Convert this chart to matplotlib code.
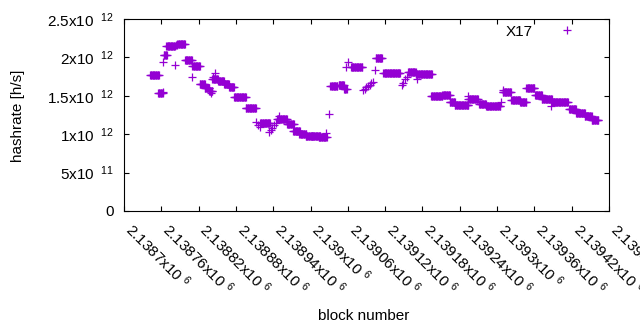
import numpy as np
import matplotlib
matplotlib.use('Agg')
import matplotlib.pyplot as plt
from matplotlib.ticker import MultipleLocator, FuncFormatter

plt.rcParams['font.family'] = ['Liberation Sans', 'DejaVu Sans']
plt.rcParams['mathtext.fontset'] = 'custom'
plt.rcParams['mathtext.rm'] = 'Liberation Sans'
plt.rcParams['mathtext.it'] = 'Liberation Sans'
plt.rcParams['mathtext.default'] = 'regular'

# --- data ---
# runs of consecutive blocks that share one hashrate estimate
# (first block, last block, hashrate in 10^12 h/s); single points have first == last
run_first = [2138742, 2138755, 2138763, 2138763, 2138764, 2138768, 2138782, 2138784,
             2138786, 2138798, 2138810, 2138810, 2138822, 2138830, 2138837, 2138840,
             2138843, 2138847, 2138842, 2138851, 2138861, 2138869, 2138877, 2138896,
             2138912, 2138916, 2138918, 2138919, 2138933, 2138936, 2138938, 2138941,
             2138944, 2138946, 2138950, 2138962, 2138972, 2138982, 2138992, 2139003,
             2139013, 2139025, 2139030, 2139032, 2139045, 2139054, 2139057, 2139061,
             2139065, 2139084, 2139087, 2139090, 2139093, 2139096, 2139098, 2139101,
             2139104, 2139105, 2139117, 2139147, 2139149, 2139152, 2139155, 2139157,
             2139169, 2139172, 2139194, 2139212, 2139224, 2139232, 2139253, 2139254,
             2139271, 2139282, 2139306, 2139309, 2139309, 2139323, 2139337, 2139347,
             2139361, 2139372, 2139387, 2139388, 2139416, 2139427, 2139441, 2139452]
run_last = [2138756, 2138762, 2138763, 2138763, 2138769, 2138782, 2138782, 2138785,
            2138798, 2138809, 2138822, 2138810, 2138830, 2138837, 2138842, 2138840,
            2138843, 2138847, 2138851, 2138861, 2138869, 2138877, 2138896, 2138912,
            2138912, 2138916, 2138918, 2138935, 2138933, 2138936, 2138938, 2138941,
            2138944, 2138962, 2138950, 2138973, 2138983, 2138993, 2139004, 2139016,
            2139026, 2139025, 2139030, 2139043, 2139054, 2139058, 2139057, 2139061,
            2139083, 2139084, 2139087, 2139090, 2139093, 2139096, 2139098, 2139101,
            2139104, 2139115, 2139144, 2139147, 2139149, 2139152, 2139155, 2139169,
            2139195, 2139172, 2139212, 2139224, 2139232, 2139254, 2139253, 2139269,
            2139282, 2139305, 2139306, 2139322, 2139309, 2139337, 2139347, 2139360,
            2139372, 2139388, 2139387, 2139414, 2139427, 2139441, 2139452, 2139463]
run_hashrate = [1.765, 1.532, 1.553, 1.936, 2.03, 2.144, 1.897, 2.165,
                2.18, 1.962, 1.884, 1.749, 1.656, 1.60, 1.565, 1.53,
                1.745, 1.793, 1.72, 1.69, 1.66, 1.62, 1.48, 1.335,
                1.163, 1.12, 1.10, 1.152, 1.03, 1.055, 1.08, 1.12,
                1.15, 1.194, 1.237, 1.133, 1.04, 1.006, 0.979, 0.973,
                0.96, 1.02, 1.259, 1.628, 1.637, 1.585, 1.87, 1.94,
                1.873, 1.575, 1.59, 1.61, 1.63, 1.645, 1.663, 1.684,
                1.836, 1.988, 1.795, 1.64, 1.67, 1.715, 1.75, 1.806,
                1.78, 1.715, 1.493, 1.506, 1.423, 1.376, 1.50, 1.46,
                1.39, 1.367, 1.423, 1.543, 1.576, 1.45, 1.419, 1.60,
                1.506, 1.454, 1.367, 1.415, 1.324, 1.28, 1.237, 1.189]

series_name = 'X17'
x_start, x_end, x_step = 2138700, 2139480, 60
y_max, y_step = 2.5e12, 5e11
purple = '#9400d3'

# one point per block inside each run
blocks = np.concatenate([np.arange(a, b + 1) for a, b in zip(run_first, run_last)])
rates = np.concatenate([np.full(b - a + 1, v * 1e12)
                        for a, b, v in zip(run_first, run_last, run_hashrate)])


def sci_label(v, gap=''):
    # gnuplot style "mantissa x10^exp"
    if v == 0:
        return '0'
    exp = int(np.floor(np.log10(abs(v)) + 1e-9))
    mant = v / 10 ** exp
    return f'{mant:g}x10 $^{{{gap}{exp}}}$'


fig = plt.figure(figsize=(6.4, 3.3), dpi=100)
ax = fig.add_axes([124 / 640, 1 - 211 / 330, 485 / 640, 192 / 330])

ax.plot(blocks, rates, linestyle='none', marker='+', markersize=5.2,
        markeredgewidth=0.9, color=purple, label=series_name)

ax.set_xlim(x_start, x_end)
ax.set_ylim(0, y_max)
ax.xaxis.set_major_locator(MultipleLocator(x_step))
ax.yaxis.set_major_locator(MultipleLocator(y_step))
ax.xaxis.set_major_formatter(FuncFormatter(lambda v, p: sci_label(v)))
ax.yaxis.set_major_formatter(FuncFormatter(lambda v, p: sci_label(v, '\\ ')))

ax.tick_params(direction='in', length=3.5, width=0.8, top=True, right=True,
               labelsize=11, colors='black')
ax.tick_params(axis='y', pad=7.5)
ax.tick_params(axis='x', pad=14.4)
for lab in ax.get_xticklabels():
    lab.set_rotation(-45)
    lab.set_rotation_mode('anchor')
    lab.set_ha('left')
    lab.set_va('baseline')
for sp in ax.spines.values():
    sp.set_linewidth(0.8)

fig.text(18 / 640, 1 - 116 / 330, 'hashrate [h/s]', rotation=90,
         ha='center', va='center', fontsize=11)
fig.text(364 / 640, 1 - 316 / 330, 'block number', ha='center', va='center', fontsize=11)

ax.legend(loc='center right', bbox_to_anchor=((582.3 - 124) / 485, (211 - 31.5) / 192),
          frameon=False, markerfirst=False, borderpad=0, borderaxespad=0,
          handlelength=2, handletextpad=1.22, fontsize=11)

fig.savefig('out.png', dpi=100)
